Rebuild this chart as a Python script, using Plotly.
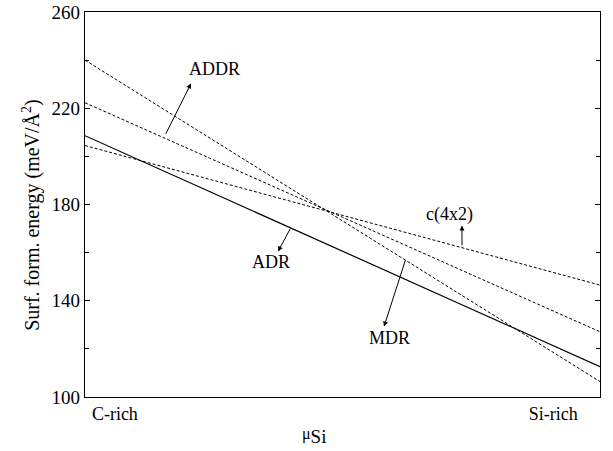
import plotly.graph_objects as go

# Chemical potential range (C-rich -> Si-rich), normalised
x_ends = [0.0, 1.0]
adr = [208.6, 112.6]
addr = [240.0, 106.4]
mdr = [222.3, 127.1]
c4x2 = [204.5, 146.5]

y_ticks = [100, 140, 180, 220, 260]
x_tick_pos = [0.058, 0.909]
x_tick_text = ["C-rich", "Si-rich"]

FONT = "Liberation Serif, Times New Roman, serif"

fig = go.Figure()
fig.add_trace(go.Scatter(x=x_ends, y=adr, mode="lines", line=dict(color="black", width=1.2), name="ADR"))
for ys, nm in [(addr, "ADDR"), (mdr, "MDR"), (c4x2, "c(4x2)")]:
    fig.add_trace(go.Scatter(x=x_ends, y=ys, mode="lines",
                             line=dict(color="black", width=1, dash="3px,2px"), name=nm))

anns = []
labels = [("ADDR", 0.2524, 236.5), ("ADR", 0.361, 156.3), ("c(4x2)", 0.7068, 175.8), ("MDR", 0.592, 124.7)]
for t, x, y in labels:
    anns.append(dict(x=x, y=y, xref="x", yref="y", text=t, showarrow=False,
                     font=dict(family=FONT, size=18, color="black")))
# arrows: head (x,y), tail (ax,ay)
arrows = [(0.2058, 230.3, 0.1553, 208.7), (0.3748, 160.5, 0.4, 170.5),
          (0.732, 171.3, 0.732, 162.4), (0.5806, 129.3, 0.6233, 157.6)]
for hx, hy, tx, ty in arrows:
    anns.append(dict(x=hx, y=hy, ax=tx, ay=ty, xref="x", yref="y", axref="x", ayref="y",
                     text="", showarrow=True, arrowhead=2, arrowsize=1, arrowwidth=1, arrowcolor="black"))
anns.append(dict(x=-0.103, y=0.473, xref="paper", yref="paper", xanchor="center", yanchor="middle",
                 text="Surf. form. energy (meV/Å<sup>2</sup>)",
                 textangle=-90, showarrow=False, font=dict(family=FONT, size=20, color="black")))
anns.append(dict(x=0.445, y=-0.10, xref="paper", yref="paper", xanchor="center", yanchor="middle",
                 text="<span style='font-size:16px'>μ</span><sub><span style='font-size:19px'>Si</span></sub>",
                 showarrow=False, font=dict(family=FONT, size=19, color="black")))

fig.update_layout(
    width=613, height=451,
    margin=dict(l=85, r=13, t=12, b=53.5),
    plot_bgcolor="white", paper_bgcolor="white",
    showlegend=False,
    annotations=anns,
    font=dict(family=FONT, size=18, color="black"),
)
fig.update_xaxes(range=[0, 1], tickvals=x_tick_pos, ticktext=x_tick_text, ticks="", automargin=False,
                 showgrid=False, zeroline=False, showline=True, linecolor="black", linewidth=1.2,
                 mirror=True, tickfont=dict(family=FONT, size=18))
fig.update_yaxes(range=[100, 260], tickvals=y_ticks, ticks="inside", ticklen=5, tickcolor="black",
                 automargin=False,
                 minor=dict(dtick=20, ticks="inside", ticklen=4, tickcolor="black", showgrid=False),
                 showgrid=False, zeroline=False, showline=True, linecolor="black", linewidth=1.2,
                 mirror="ticks", tickfont=dict(family=FONT, size=19))

fig.write_html("out.html", config={"displayModeBar": False},
               post_script="document.body.style.margin='0';document.body.style.overflow='hidden';")
